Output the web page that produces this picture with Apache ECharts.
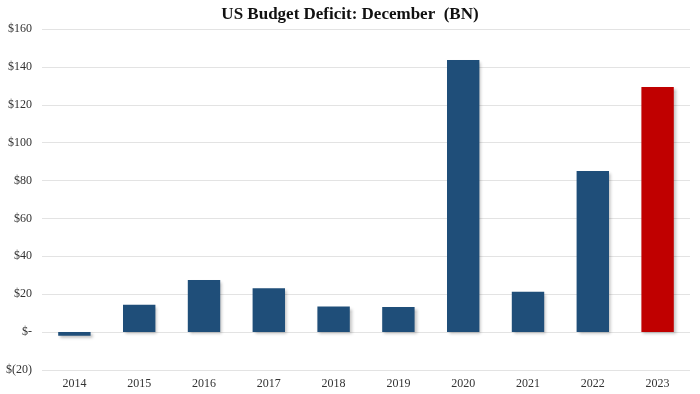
<!DOCTYPE html>
<html>
<head>
<meta charset="utf-8">
<script src="https://cdn.jsdelivr.net/npm/echarts@6/dist/echarts.min.js"></script>
<style>
html,body{margin:0;padding:0;background:#fff;}
#chart{width:700px;height:394px;}
</style>
</head>
<body>
<div id="chart"></div>
<script>
var years = ['2014','2015','2016','2017','2018','2019','2020','2021','2022','2023'];
var deficits = [-1.9, 14.4, 27.5, 23.2, 13.5, 13.3, 143.6, 21.3, 85.0, 129.4];
var barColors = ['#1F4E79','#1F4E79','#1F4E79','#1F4E79','#1F4E79','#1F4E79','#1F4E79','#1F4E79','#1F4E79','#C00000'];
var yTicks = {min: -20, max: 160, interval: 20};
var titleText = 'US Budget Deficit: December  (BN)';

var chart = echarts.init(document.getElementById('chart'), null, {renderer: 'canvas'});
chart.setOption({
  animation: false,
  backgroundColor: '#ffffff',
  title: {
    text: titleText,
    left: 'center',
    top: 1,
    textStyle: {fontFamily: 'Liberation Serif', fontWeight: 'bold', fontSize: 17, color: '#111'}
  },
  grid: {left: 42, right: 10, top: 29, bottom: 24, containLabel: false},
  xAxis: {
    type: 'category',
    data: years,
    axisLine: {show: false},
    axisTick: {show: false},
    axisLabel: {fontFamily: 'Liberation Serif', fontSize: 12, color: '#333', margin: 8}
  },
  yAxis: {
    type: 'value',
    min: yTicks.min, max: yTicks.max, interval: yTicks.interval,
    axisLine: {show: false},
    axisTick: {show: false},
    splitLine: {lineStyle: {color: '#e3e3e3', width: 1}},
    axisLabel: {
      fontFamily: 'Liberation Serif', fontSize: 12, color: '#333', margin: 10,
      formatter: function (v) {
        if (v === 0) return '$-';
        if (v < 0) return '$(' + Math.abs(v) + ')';
        return '$' + v;
      }
    }
  },
  series: [{
    type: 'bar',
    data: deficits.map(function (v, i) { return {value: v, itemStyle: {color: barColors[i]}}; }),
    barWidth: '50%',
    itemStyle: {shadowColor: 'rgba(0,0,0,0.25)', shadowBlur: 3, shadowOffsetX: 2, shadowOffsetY: 2}
  }]
});
</script>
</body>
</html>
